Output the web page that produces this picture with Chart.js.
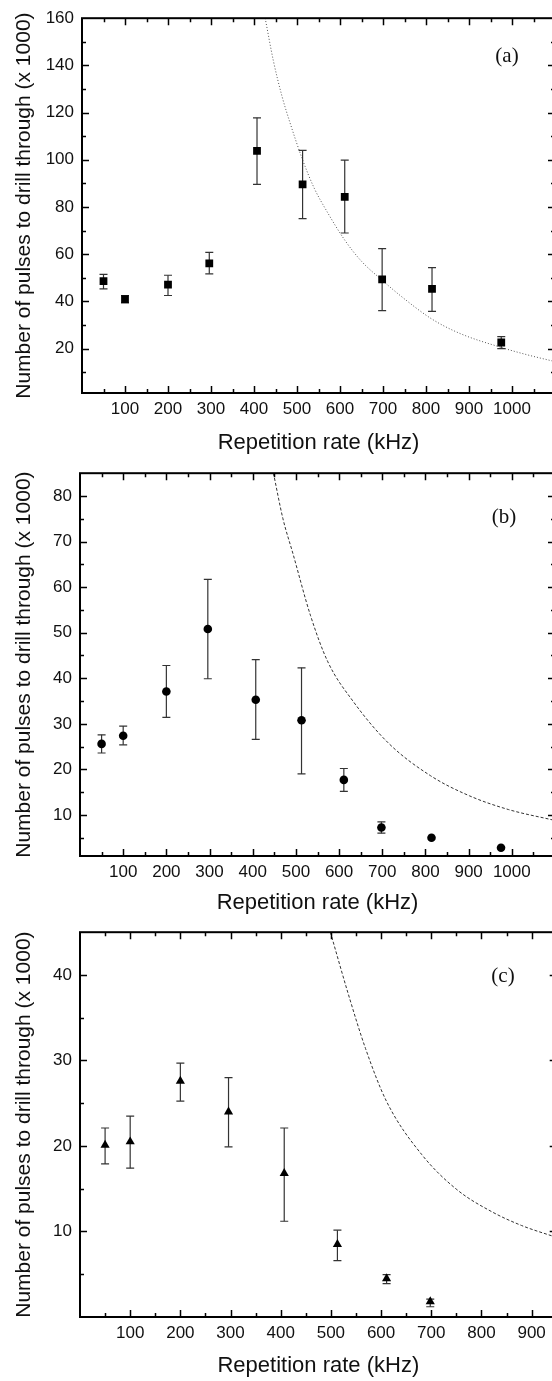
<!DOCTYPE html>
<html>
<head>
  <meta charset="utf-8">
  <title>Pulses to drill through vs repetition rate</title>
  <script src="https://cdn.jsdelivr.net/npm/chart.js@4.4.0/dist/chart.umd.min.js"></script>
  <style>
    body { margin: 0; background: #fff; overflow: hidden; }
    .panel { position: absolute; left: 0; display: block; }
  </style>
</head>
<body>
<canvas id="chartA" class="panel" width="562" height="455" style="top:0px"></canvas>
<canvas id="chartB" class="panel" width="562" height="459" style="top:455px"></canvas>
<canvas id="chartC" class="panel" width="562" height="463" style="top:914px"></canvas>

<script>
// repetition rates in kHz (same for every panel, (c) stops at 700)
const rate = [50, 100, 200, 296, 407, 513, 611, 698, 814, 975];
const rateC = [50, 100, 200, 296, 407, 513, 611, 698];

// (a) squares, pulses x 1000
const pulsesA = [48.6, 41.0, 47.1, 56.1, 103.8, 89.6, 84.3, 49.3, 45.3, 22.6];
const upperA  = [51.5, 42.5, 51.1, 60.8, 117.8, 104.0, 99.9, 62.4, 54.3, 25.1];
const lowerA  = [45.3, 39.4, 42.5, 51.7, 89.6, 75.1, 69.0, 36.1, 35.8, 20.0];

// (b) circles
const pulsesB = [25.6, 27.4, 37.1, 50.8, 35.3, 30.8, 17.7, 7.25, 5.0, 2.8];
const upperB  = [27.6, 29.5, 42.8, 61.7, 44.1, 42.3, 20.2, 8.5, null, null];
const lowerB  = [23.6, 25.4, 31.4, 39.9, 26.6, 19.0, 15.2, 6.0, null, null];

// (c) triangles
const pulsesC = [20.1, 20.5, 27.6, 24.0, 16.8, 8.5, 4.5, 1.8];
const upperC  = [22.1, 23.5, 29.7, 28.0, 22.1, 10.15, 4.95, 2.1];
const lowerC  = [17.9, 17.4, 25.25, 19.9, 11.2, 6.6, 3.9, 1.2];

// guide curves
const curveRateA = [426, 445, 465, 485, 513, 540, 570, 611, 650, 698, 740, 814, 878, 975, 1033, 1100];
const curveA     = [160, 142, 127, 115, 100, 88, 78, 66, 57, 49, 42.5, 32.5, 26.5, 20.5, 17.5, 14.5];
const curveRateB = [448, 470, 493, 534, 574, 632, 714, 812, 902, 992, 1100];
const curveB     = [85, 75, 67.4, 53.7, 43.6, 35, 25.8, 18.6, 14.2, 11.2, 8.8];
const curveRateC = [499, 534, 569, 611, 681, 751, 821, 880, 950];
const curveC     = [45, 37.9, 31.4, 25.2, 19, 14.9, 12.3, 10.7, 9.3];

// tick labels
const xTicksAB = [100, 200, 300, 400, 500, 600, 700, 800, 900, 1000];
const xTicksC  = [100, 200, 300, 400, 500, 600, 700, 800, 900];
const yTicksA  = [20, 40, 60, 80, 100, 120, 140, 160];
const yTicksB  = [10, 20, 30, 40, 50, 60, 70, 80];
const yTicksC  = [10, 20, 30, 40];

const sans = '"Liberation Sans", Arial, sans-serif';

function pairs(xs, ys) {
  return xs.map((x, i) => ({x: x, y: ys[i]}));
}

// one line dataset for all error bars, gaps between them
function errorBars(xs, lo, hi) {
  const pts = [];
  xs.forEach((x, i) => {
    if (lo[i] == null) return;
    pts.push({x: x, y: lo[i]}, {x: x, y: hi[i]}, {x: x, y: null});
  });
  return pts;
}

// frame, inward ticks on four sides, and panel letter
const framePlugin = {
  id: 'frame',
  afterDraw(chart, args, o) {
    const ctx = chart.ctx;
    const a = chart.chartArea;
    const x = chart.scales.x, y = chart.scales.y;
    ctx.save();
    ctx.strokeStyle = '#000';
    ctx.lineWidth = 1.5;
    ctx.beginPath();
    const hx = o.xStep / 2;
    for (let v = hx; v < x.max - 1e-6; v += hx) {
      const px = Math.round(x.getPixelForValue(v)) + 0.5;
      const len = (Math.round(v / hx) % 2 === 0) ? 7 : 4;
      ctx.moveTo(px, a.bottom); ctx.lineTo(px, a.bottom - len);
      ctx.moveTo(px, a.top); ctx.lineTo(px, a.top + len);
    }
    const hy = o.yStep / 2;
    for (let v = hy; v < y.max - 1e-6; v += hy) {
      if (v <= y.min) continue;
      const py = Math.round(y.getPixelForValue(v)) + 0.5;
      const len = (Math.round(v / hy) % 2 === 0) ? 7 : 4;
      ctx.moveTo(a.left, py); ctx.lineTo(a.left + len, py);
      ctx.moveTo(a.right, py); ctx.lineTo(a.right - len, py);
    }
    ctx.stroke();
    ctx.lineWidth = 2;
    ctx.strokeRect(a.left, a.top, a.right - a.left, a.bottom - a.top);

    ctx.font = '21px "Liberation Serif", "Times New Roman", serif';
    ctx.fillStyle = '#111';
    ctx.textAlign = 'center';
    ctx.textBaseline = 'middle';
    ctx.fillText(o.letter, o.lx, o.ly);
    ctx.restore();
  }
};

function makePanel(id, p) {
  const ctx = document.getElementById(id).getContext('2d');
  return new Chart(ctx, {
    type: 'scatter',
    data: {
      datasets: [
        {
          data: pairs(p.rates, p.values),
          pointStyle: p.marker,
          pointRadius: p.radius,
          pointBackgroundColor: '#000',
          pointBorderColor: '#000',
          pointBorderWidth: 0,
          order: 0
        },
        {
          data: errorBars(p.rates, p.lower, p.upper),
          showLine: true,
          spanGaps: false,
          borderColor: '#333',
          borderWidth: 1.2,
          pointStyle: 'line',
          pointRadius: 4,
          pointBorderColor: '#333',
          pointBorderWidth: 1.2,
          order: 1
        },
        {
          data: pairs(p.curveX, p.curveY),
          showLine: true,
          borderColor: p.curveColor,
          borderWidth: 1,
          borderDash: p.dash,
          pointRadius: 0,
          cubicInterpolationMode: 'monotone',
          order: 2
        }
      ]
    },
    options: {
      responsive: false,
      animation: false,
      devicePixelRatio: 1,
      layout: { padding: { top: p.padTop, right: p.padRight, left: 0, bottom: 0 } },
      plugins: {
        legend: { display: false },
        tooltip: { enabled: false },
        frame: { letter: p.letter, lx: p.lx, ly: p.ly, xStep: 100, yStep: p.yStep }
      },
      scales: {
        x: {
          type: 'linear',
          min: 0,
          max: p.xMax,
          afterBuildTicks: s => { s.ticks = p.xTicks.map(v => ({value: v})); },
          afterFit: s => { s.height = p.xAxisHeight; },
          grid: { display: false, drawTicks: false },
          border: { display: false },
          ticks: {
            color: '#111', padding: 6, maxRotation: 0, autoSkip: false,
            font: { family: sans, size: 17 },
            callback: v => String(v)
          },
          title: {
            display: true, text: 'Repetition rate (kHz)', color: '#111',
            font: { family: sans, size: 22 }, padding: { top: 0, bottom: p.titleShift }
          }
        },
        y: {
          type: 'linear',
          min: p.yMin,
          max: p.yMax,
          afterBuildTicks: s => { s.ticks = p.yTicks.map(v => ({value: v})); },
          afterFit: s => { s.width = p.yAxisWidth; },
          grid: { display: false, drawTicks: false },
          border: { display: false },
          ticks: {
            color: '#111', padding: 8, autoSkip: false,
            font: { family: sans, size: 17 },
            callback: v => String(v)
          },
          title: {
            display: true, text: 'Number of pulses to drill through (x 1000)', color: '#111',
            font: { family: sans, size: 21 }, padding: { top: 12, bottom: 0 }
          }
        }
      }
    },
    plugins: [framePlugin]
  });
}

makePanel('chartA', {
  rates: rate, values: pulsesA, upper: upperA, lower: lowerA,
  marker: 'rect', radius: 5.5,
  curveX: curveRateA, curveY: curveA, curveColor: '#555', dash: [1, 2],
  xMax: 1100, xTicks: xTicksAB, yMin: 1.2, yMax: 160, yTicks: yTicksA, yStep: 20,
  padTop: 12, padRight: 7, xAxisHeight: 62, yAxisWidth: 82, titleShift: -1,
  letter: '(a)', lx: 507, ly: 56
});

makePanel('chartB', {
  rates: rate, values: pulsesB, upper: upperB, lower: lowerB,
  marker: 'circle', radius: 4.3,
  curveX: curveRateB, curveY: curveB, curveColor: '#333', dash: [3, 2],
  xMax: 1100, xTicks: xTicksAB, yMin: 1, yMax: 85, yTicks: yTicksB, yStep: 10,
  padTop: 14, padRight: 7, xAxisHeight: 58, yAxisWidth: 80, titleShift: -2,
  letter: '(b)', lx: 504, ly: 62
});

makePanel('chartC', {
  rates: rateC, values: pulsesC, upper: upperC, lower: lowerC,
  marker: 'triangle', radius: 5.3,
  curveX: curveRateC, curveY: curveC, curveColor: '#333', dash: [3, 2],
  xMax: 950, xTicks: xTicksC, yMin: 0, yMax: 45, yTicks: yTicksC, yStep: 10,
  padTop: 15, padRight: 5, xAxisHeight: 60, yAxisWidth: 80, titleShift: -2,
  letter: '(c)', lx: 503, ly: 62
});
</script>
</body>
</html>
